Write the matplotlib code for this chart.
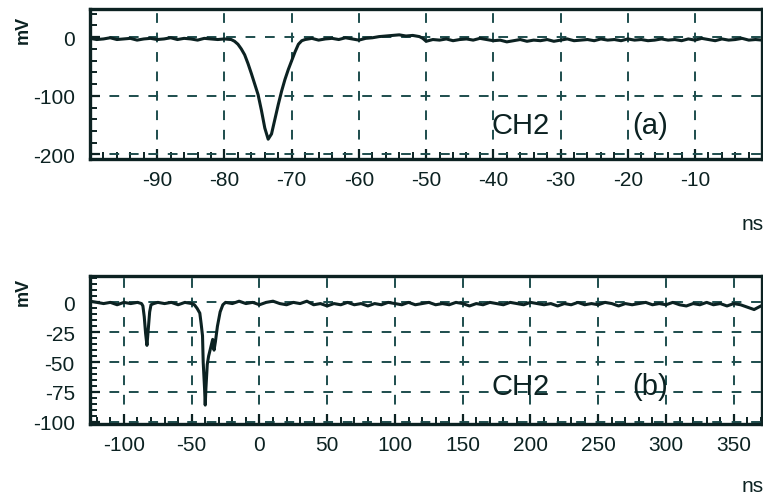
import matplotlib
matplotlib.use('Agg')
import matplotlib.pyplot as plt
from matplotlib import font_manager
from matplotlib.ticker import MultipleLocator

# trace (a): time in ns, signal in mV
t_a = [-100, -99, -98, -97, -96, -95, -94, -93, -92, -91, -90, -89, -88, -87, -86,
       -85, -84, -83, -82, -81, -80, -79, -78.5, -78, -77.5, -77, -76.5, -76, -75.5,
       -75, -74.5, -74, -73.5, -73, -72.5, -72, -71.5, -71, -70.5, -70, -69.5, -69,
       -68.5, -68, -67, -66, -65, -64, -63, -62, -61, -60, -59, -58, -57, -56, -55,
       -54, -53, -52, -51, -50.5, -50, -49, -48, -47, -46, -45, -44, -43, -42, -41,
       -40, -39, -38, -37, -36, -35, -34, -33, -32, -31, -30, -29, -28, -27, -26,
       -25, -24, -23, -22, -21, -20, -19, -18, -17, -16, -15, -14, -13, -12, -11,
       -10, -9, -8, -7, -6, -5, -4, -3, -2, -1, 0]
v_a = [-2, -4, -3, -1, -4, -3, -2, -5, -3, -2, -4, -3, -1, -4, -2,
       -3, -5, -2, -3, -4, -3, -4, -7, -12, -20, -30, -45, -62, -80,
       -98, -125, -155, -174, -165, -140, -115, -92, -72, -55, -40, -25, -12,
       -6, -4, -2, -5, -3, -2, -4, -1, -3, -5, -2, -1, 1, 2, 3,
       4, 2, 3, 1, -2, -7, -4, -5, -3, -6, -4, -3, -5, -2, -4,
       -6, -5, -8, -6, -4, -7, -5, -6, -4, -7, -5, -3, -6, -5, -4,
       -6, -3, -5, -4, -6, -3, -5, -4, -6, -5, -3, -5, -4, -6, -3,
       -5, -2, -4, -6, -3, -5, -4, -2, -5, -4, -5]

# trace (b): time in ns, signal in mV
t_b = [-125, -120, -115, -110, -105, -100, -95, -90, -87, -86, -85, -84, -83, -82,
       -81, -80, -78, -75, -70, -65, -60, -55, -50, -48, -46, -44, -43, -42, -41.5,
       -40.5, -40, -39.5, -38.5, -37.5, -36, -34.5, -33.5, -32.5, -31, -29, -27,
       -25, -20, -15, -10, -5, 0, 5, 10, 15, 20, 25, 30, 35, 40, 45, 50, 55, 60,
       65, 70, 75, 80, 85, 90, 95, 100, 105, 110, 115, 120, 125, 130, 135, 140,
       145, 150, 155, 160, 165, 170, 175, 180, 185, 190, 195, 200, 205, 210, 215,
       220, 225, 230, 235, 240, 245, 250, 255, 260, 265, 270, 275, 280, 285, 290,
       295, 300, 305, 310, 315, 320, 325, 330, 335, 340, 345, 350, 355, 360, 365,
       370, 375]
v_b = [1, 0, -1, 0, -2, 0, -1, 0, -1, -3, -12, -26, -36, -22,
       -8, -2, -1, 0, -1, 0, -2, 0, -1, -2, -5, -9, -18, -28, -50,
       -72, -86, -72, -52, -45, -38, -31, -40, -33, -20, -8, -2,
       0, -1, 1, -1, 0, -2, 0, 1, -1, -2, 0, -1, 1, -2, -1, -3, -1, -2,
       0, -2, -1, -3, -1, -2, 0, -1, -2, 0, -2, -1, 0, -2, -1, -2,
       0, -1, -3, -1, -2, 0, -1, -2, 0, -1, -2, 0, -1, -2, -1,
       -3, -1, -2, 0, -2, -1, -2, 0, -1, -3, -1, -2, -1, 0, -2,
       -1, -2, 0, -2, -3, -1, -2, 0, -2, -1, -3, -1, -2, -4, -6,
       -3, -2]

xticks_a = [-90, -80, -70, -60, -50, -40, -30, -20, -10]
yticks_a = [0, -100, -200]
xticks_b = [-100, -50, 0, 50, 100, 150, 200, 250, 300, 350]
yticks_b = [0, -25, -50, -75, -100]

names = {f.name for f in font_manager.fontManager.ttflist}
family = 'Liberation Sans Narrow' if 'Liberation Sans Narrow' in names else 'Liberation Sans'
plt.rcParams['font.family'] = family
plt.rcParams['axes.unicode_minus'] = False

ink = '#0c2222'
grid_col = '#1d4d4d'

fig = plt.figure(figsize=(7.63, 5.02), dpi=100)
ax_a = fig.add_axes([0.118, 0.681, 0.881, 0.299])
ax_b = fig.add_axes([0.118, 0.153, 0.881, 0.295])


def style(ax, xticks, yticks, xminor, yminor):
    ax.set_xticks(xticks)
    ax.set_yticks(yticks)
    ax.xaxis.set_minor_locator(MultipleLocator(xminor))
    ax.yaxis.set_minor_locator(MultipleLocator(yminor))
    ax.tick_params(which='major', direction='in', length=7, width=1.6, color=ink,
                   labelsize=15, labelcolor=ink, top=False, right=False)
    ax.tick_params(axis='x', which='major', pad=8)
    ax.tick_params(axis='y', which='major', pad=11)
    ax.tick_params(which='minor', direction='in', length=5, width=1.4, color=ink,
                   top=False, right=False)
    for s in ax.spines.values():
        s.set_linewidth(2.4)
        s.set_color(ink)
    ax.grid(True, which='major', color=grid_col, linestyle=(0, (5, 5)), linewidth=1.4)
    ax.set_axisbelow(True)


ax_a.plot(t_a, v_a, color=ink, linewidth=2.2)
ax_a.set_xlim(-100, 0)
ax_a.set_ylim(-208, 48)
style(ax_a, xticks_a, yticks_a, 2, 20)
ax_a.text(0.64, 0.23, 'CH2', transform=ax_a.transAxes, fontsize=21, color=ink,
          ha='center', va='center')
ax_a.text(0.833, 0.23, '(a)', transform=ax_a.transAxes, fontsize=21, color=ink,
          ha='center', va='center')

ax_b.plot(t_b, v_b, color=ink, linewidth=2.2)
ax_b.set_xlim(-125, 371)
ax_b.set_ylim(-102, 22)
style(ax_b, xticks_b, yticks_b, 10, 5)
ax_b.text(0.64, 0.257, 'CH2', transform=ax_b.transAxes, fontsize=21, color=ink,
          ha='center', va='center')
ax_b.text(0.833, 0.257, '(b)', transform=ax_b.transAxes, fontsize=21, color=ink,
          ha='center', va='center')

for y in (0.94, 0.418):
    fig.text(0.031, y, 'mV', rotation=90, fontsize=13, fontweight='bold', color=ink,
             ha='center', va='center')
fig.text(0.972, 0.552, 'ns', fontsize=15, color=ink, ha='left', va='center')
fig.text(0.972, 0.03, 'ns', fontsize=15, color=ink, ha='left', va='center')

fig.savefig('out.png', dpi=100)
